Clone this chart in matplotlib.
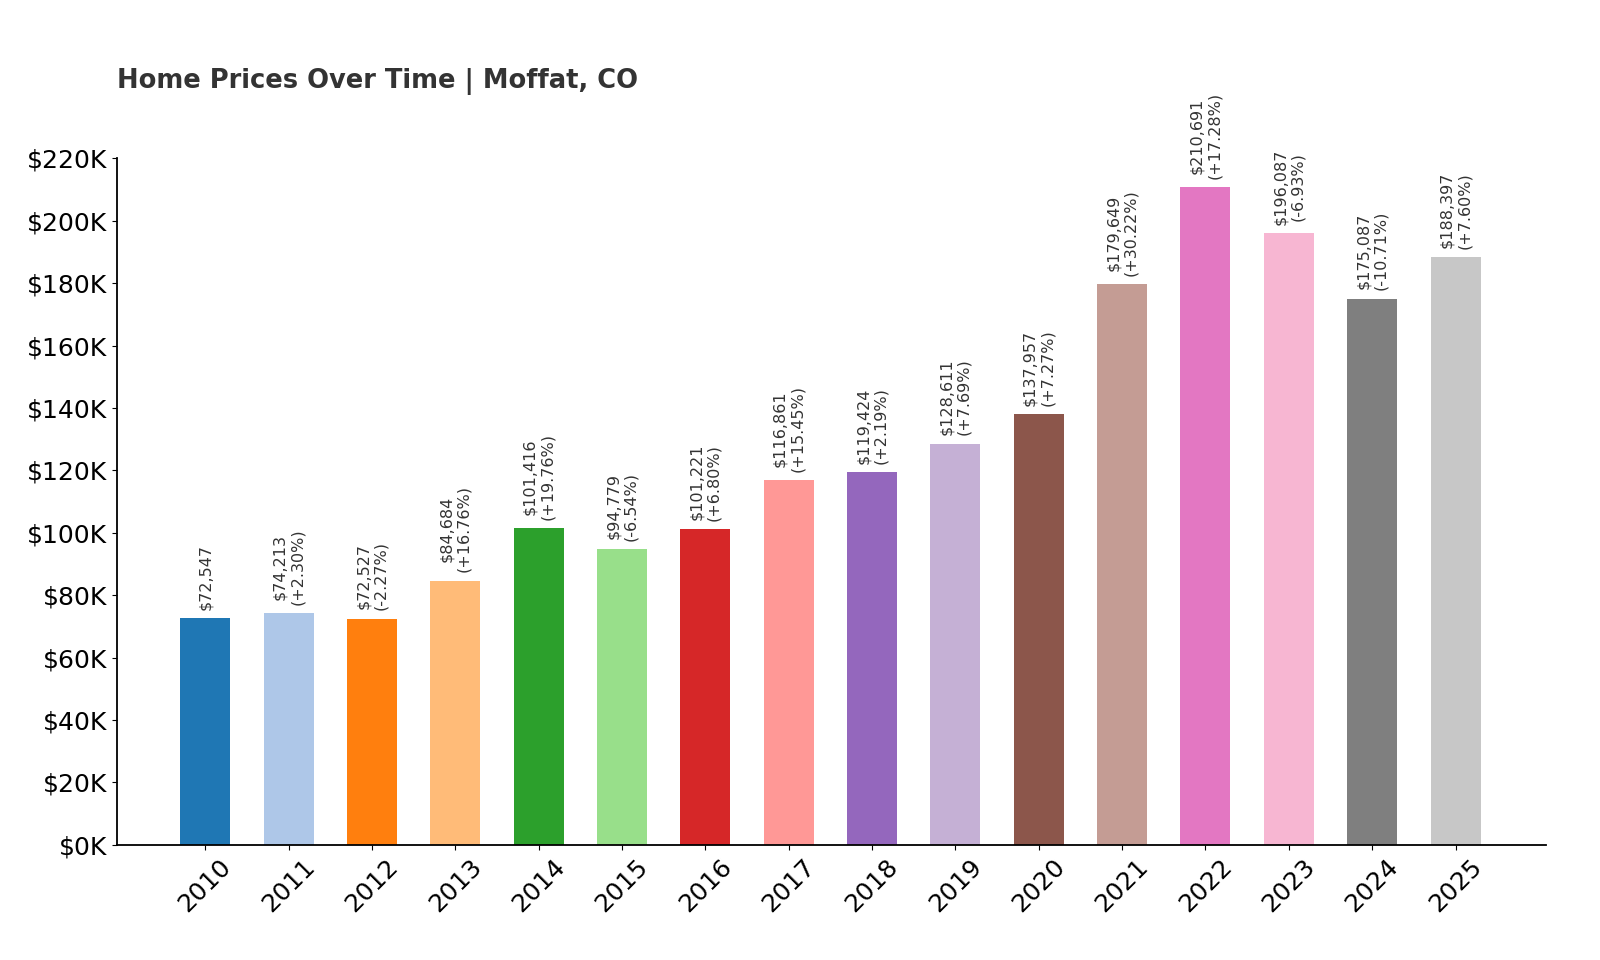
import matplotlib.pyplot as plt

years = [str(y) for y in range(2010, 2026)]
prices = [72547, 74213, 72527, 84684, 101416, 94779, 101221, 116861,
          119424, 128611, 137957, 179649, 210691, 196087, 175087, 188397]
changes = [None, "+2.30%", "-2.27%", "+16.76%", "+19.76%", "-6.54%", "+6.80%", "+15.45%",
           "+2.19%", "+7.69%", "+7.27%", "+30.22%", "+17.28%", "-6.93%", "-10.71%", "+7.60%"]
colors = ["#1f77b4", "#aec7e8", "#ff7f0e", "#ffbb78", "#2ca02c", "#98df8a",
          "#d62728", "#ff9896", "#9467bd", "#c5b0d5", "#8c564b", "#c49c94",
          "#e377c2", "#f7b6d2", "#7f7f7f", "#c7c7c7"]

fig = plt.figure(figsize=(16, 9.6), dpi=100)
ax = fig.add_axes([0.073, 0.12, 0.893, 0.715])
x = range(len(years))
ax.bar(x, prices, width=0.6, color=colors)

for i, p in enumerate(prices):
    txt = f"${p:,}" if changes[i] is None else f"${p:,}\n({changes[i]})"
    ax.annotate(txt, (i, p), xytext=(0, 6), textcoords="offset points",
                rotation=90, ha="center", va="bottom", fontsize=11.5,
                color="#333333", annotation_clip=False)

ax.set_xlim(-1.06, len(years) - 1 + 1.08)
ax.set_ylim(0, 220000)
ax.set_yticks(range(0, 220001, 20000))
ax.set_yticklabels([f"${v // 1000}K" for v in range(0, 220001, 20000)], fontsize=18)
ax.set_xticks(list(x))
ax.set_xticklabels(years, rotation=45, fontsize=18)
ax.spines["top"].set_visible(False)
ax.spines["right"].set_visible(False)
ax.spines["left"].set_linewidth(1.3)
ax.spines["bottom"].set_linewidth(1.3)

fig.text(0.073, 0.915, "Home Prices Over Time | Moffat, CO", fontsize=18.5,
         fontweight="bold", color="#333333", ha="left", va="center")

fig.savefig("out.png", dpi=100)
